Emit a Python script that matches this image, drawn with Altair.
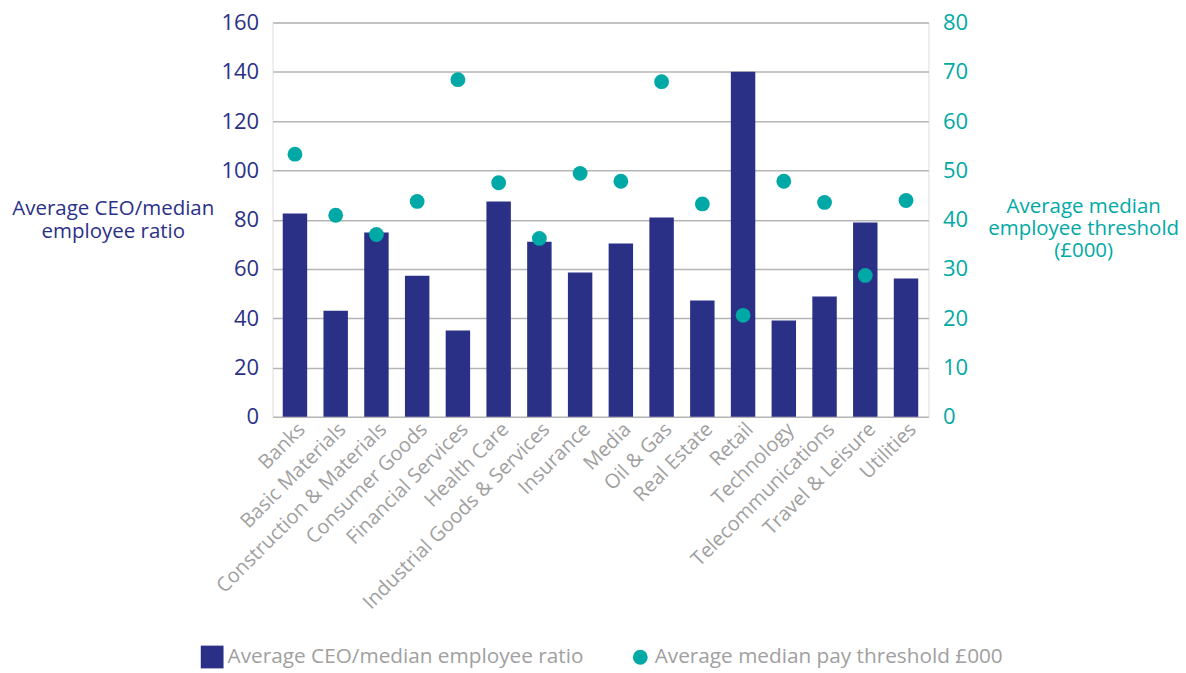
import altair as alt
import pandas as pd

categories = ["Banks", "Basic Materials", "Construction & Materials", "Consumer Goods",
              "Financial Services", "Health Care", "Industrial Goods & Services", "Insurance",
              "Media", "Oil & Gas", "Real Estate", "Retail", "Technology",
              "Telecommunications", "Travel & Leisure", "Utilities"]
ratio = [82.5, 43.1, 74.8, 57.3, 35.0, 87.4, 71.1, 58.6, 70.3, 80.9, 47.2, 140, 39.1, 48.8, 78.9, 56.1]
threshold = [53.3, 40.9, 37.0, 43.7, 68.4, 47.5, 36.2, 49.4, 47.8, 68.0, 43.2, 20.6, 47.8, 43.5, 28.7, 43.9]
series_names = ["Average CEO/median employee ratio", "Average median pay threshold £000"]
left_ticks = [0, 20, 40, 60, 80, 100, 120, 140, 160]
right_ticks = [0, 10, 20, 30, 40, 50, 60, 70, 80]

NAVY = "#2B3087"
TEAL = "#00A9A5"
GREY = "#a0a0a0"
FONT = "Open Sans"

df = pd.DataFrame({
    "category": categories,
    "ratio": ratio,
    "threshold": threshold,
    "s_bar": series_names[0],
    "s_pt": series_names[1],
})

x_enc = alt.X("category:N", sort=categories, title=None,
              scale=alt.Scale(paddingInner=0.4, paddingOuter=0.25),
              axis=alt.Axis(labelAngle=315, labelAlign="right", labelBaseline="top",
                            labelColor=GREY, labelFont=FONT, labelFontSize=20, labelLimit=0,
                            ticks=False, domain=False, labelPadding=2))

color_scale = alt.Scale(domain=series_names, range=[NAVY, TEAL])
shape_scale = alt.Scale(domain=series_names, range=["square", "circle"])
size_scale = alt.Scale(domain=series_names, range=[520, 220])

legend = alt.Legend(title=None, orient="none", legendX=-72, legendY=624,
                    direction="horizontal", labelColor=GREY, labelFont=FONT,
                    labelFontSize=20.8, labelOffset=4, columnPadding=46, labelLimit=0,
                    symbolOpacity=1, symbolStrokeWidth=0)

bars = alt.Chart(df).mark_bar().encode(
    x=x_enc,
    y=alt.Y("ratio:Q", scale=alt.Scale(domain=[0, 160]),
            axis=alt.Axis(values=left_ticks, title=["Average CEO/median", "employee ratio"],
                          titleAngle=0, titleX=-160, titleY=186, titleAlign="center",
                          titleBaseline="middle", titleLineHeight=23,
                          titleColor=NAVY, titleFont=FONT, titleFontSize=20.5, titleFontWeight="normal",
                          labelColor=NAVY, labelFont=FONT, labelFontSize=22, labelPadding=14,
                          ticks=False, domain=False, grid=True, gridColor="#b5b5b5", gridWidth=1.5)),
    color=alt.Color("s_bar:N", scale=color_scale, legend=legend),
)

points = alt.Chart(df).mark_point(filled=True, opacity=1).encode(
    x=alt.X("category:N", sort=categories),
    y=alt.Y("threshold:Q", scale=alt.Scale(domain=[0, 80]),
            axis=alt.Axis(values=right_ticks, orient="right",
                          title=["Average median", "employee threshold", "(£000)"],
                          titleAngle=0, titleX=155, titleY=184, titleAlign="center",
                          titleBaseline="middle", titleLineHeight=22,
                          titleColor=TEAL, titleFont=FONT, titleFontSize=20.5, titleFontWeight="normal",
                          labelColor=TEAL, labelFont=FONT, labelFontSize=22, labelPadding=14,
                          ticks=False, domain=False, grid=False)),
    color=alt.Color("s_pt:N", scale=color_scale, legend=legend),
    shape=alt.Shape("s_pt:N", scale=shape_scale, legend=legend),
    size=alt.Size("s_pt:N", scale=size_scale, legend=legend),
)

chart = alt.layer(bars, points).resolve_scale(y="independent").properties(
    width=657, height=395,
    autosize=alt.AutoSizeParams(type="none"),
    padding={"left": 265, "top": 14, "right": 250, "bottom": 255},
).configure_view(stroke=None).configure(font=FONT)

chart.save("out.html", embed_options={"renderer": "svg", "actions": False})
